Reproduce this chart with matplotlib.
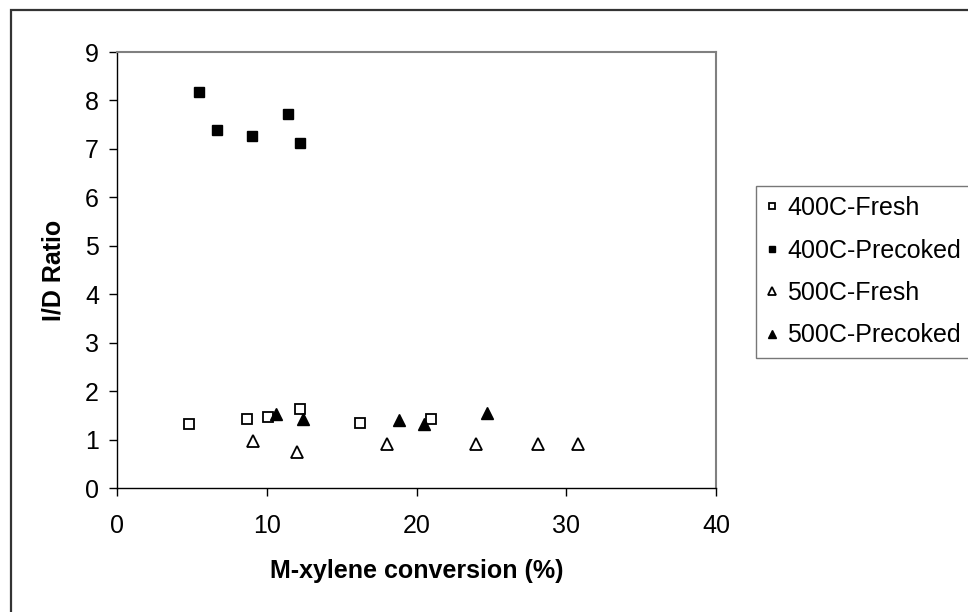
import matplotlib
matplotlib.use("Agg")
import matplotlib.pyplot as plt
from matplotlib.patches import Rectangle

plt.rcParams['font.family'] = ['Liberation Sans', 'DejaVu Sans']

# 400C-Fresh (open squares)
fresh400_x = [4.8, 8.7, 10.1, 12.2, 16.2, 21.0]
fresh400_y = [1.32, 1.43, 1.47, 1.63, 1.35, 1.43]
# 400C-Precoked (filled squares)
precoked400_x = [5.5, 6.7, 9.0, 11.4, 12.2]
precoked400_y = [8.17, 7.38, 7.26, 7.72, 7.13]
# 500C-Fresh (open triangles)
fresh500_x = [9.1, 12.0, 18.0, 24.0, 28.1, 30.8]
fresh500_y = [0.98, 0.75, 0.91, 0.91, 0.91, 0.91]
# 500C-Precoked (filled triangles)
precoked500_x = [10.6, 12.4, 18.8, 20.5, 24.7]
precoked500_y = [1.53, 1.43, 1.40, 1.32, 1.54]

xticks = [0, 10, 20, 30, 40]
yticks = list(range(10))

W, H = 968, 612
fig = plt.figure(figsize=(W / 100, H / 100), dpi=100)
ax = fig.add_axes([117 / W, 1 - 488 / H, (716 - 117) / W, (488 - 52) / H])

# outer chart frame (cut off at right and bottom)
fig.patches.append(Rectangle((11 / W, -0.1), 1.2, 1 - 10 / H + 0.1,
                             transform=fig.transFigure, fill=False,
                             edgecolor='#333333', linewidth=1.6))

ms = 7.5
ax.plot(fresh400_x, fresh400_y, 's', ms=ms, mfc='white', mec='black', mew=1.3,
        label='400C-Fresh')
ax.plot(precoked400_x, precoked400_y, 's', ms=ms, mfc='black', mec='black',
        label='400C-Precoked')
ax.plot(fresh500_x, fresh500_y, '^', ms=ms + 1, mfc='white', mec='black', mew=1.3,
        label='500C-Fresh')
ax.plot(precoked500_x, precoked500_y, '^', ms=ms + 1, mfc='black', mec='black',
        label='500C-Precoked')

ax.set_xlim(0, 40)
ax.set_ylim(0, 9)
ax.set_xticks(xticks)
ax.set_yticks(yticks)
ax.tick_params(direction='out', length=6, width=1, labelsize=18)
ax.tick_params(axis='x', pad=13)
ax.tick_params(axis='y', pad=7)
for s in ['top', 'right']:
    ax.spines[s].set_color('#808080')
    ax.spines[s].set_linewidth(1.5)
for s in ['left', 'bottom']:
    ax.spines[s].set_color('black')
    ax.spines[s].set_linewidth(1)

ax.set_xlabel('M-xylene conversion (%)', fontsize=18, fontweight='bold', labelpad=15)
ax.set_ylabel('I/D Ratio', fontsize=18, fontweight='bold', labelpad=14)

leg = fig.legend(loc='upper left', bbox_to_anchor=(756 / W, 1 - 186 / H),
                 fontsize=18, frameon=True, fancybox=False, borderaxespad=0,
                 handlelength=0.5, handletextpad=0.35, labelspacing=0.74,
                 borderpad=0.4, markerscale=0.65)
leg.get_frame().set_edgecolor('#555555')
leg.get_frame().set_linewidth(1)

fig.savefig('out.png', dpi=100)
